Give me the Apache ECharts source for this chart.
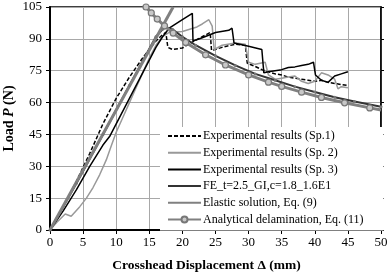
<!DOCTYPE html>
<html>
<head>
<meta charset="utf-8">
<script src="https://cdn.jsdelivr.net/npm/echarts@6/dist/echarts.min.js"></script>
<style>
  html, body { margin: 0; padding: 0; background: #fff; }
  #chart { width: 388px; height: 275px; }
</style>
</head>
<body>
<div id="chart"></div>
<script>
    // values, [displacement mm, load N]
    var sp1 = [[0,0],[2,11],[4,23],[6,36],[8,50],[10,62],[12,72],[14,81],[16,89],[17,92],[17.5,93],
        [17.8,86],[18.5,85],[20,85.7],[21.5,88.5],[23,91],[24.2,93],[24.4,84.5],[26,86],[28,87.5],[29.5,87],[29.8,78.5],
        [31,77],[32,75.5],[33,74.5],[34,73.5],[35,73],[36,72],[37,71.5],[38,71],[39,70.5],[40,70],[41,70.5],[42,69.5],
        [43,69],[44,68.5],[45,68]];
    var sp2 = [[0,0],[1,3.5],[2.3,7.5],[3.2,6.5],[4.5,11],[5.5,15],[6.5,20],[7.5,26],[8.5,33],[9.3,40],[10,46],
        [11,53],[12,60],[13,67],[14,74],[15,81],[16,87],[17,91],[18,93],[20,93.5],[22.2,95.6],[23,97],[24,99],[24.5,96],
        [24.8,85],[26,87],[28,88],[29.5,87.5],[30,79],[31,78],[32.5,79],[33,73],[34,71],[35,71.5],[36,72],[37,72.5],
        [38,70],[39,69],[40,70],[41,74],[42,73],[43,71],[43.5,66.5],[44,67.5],[45,67]];
    var sp3 = [[0,0],[2,9],[4,19],[6,30],[8,40],[9,44],[10,50],[12,62],[14,74],[16,86],[17,91],[18,95],[19,97],
        [20,99],[21.5,102],[21.6,89],[23,90.5],[25,93],[27,94],[27.5,95],[27.8,88],[30,86.5],[32,85],[32.3,74],
        [33,74.5],[34,75],[35,75.5],[36,76.5],[37,76.8],[38,77.5],[39,78],[39.8,79],[40.1,73],[41,70.5],[42,69.5],
        [43,72.5],[44,73.5],[45,74.5]];
    var feModel = [[0,0],[4,22],[8,45],[12,68],[16,91],[17,94.5],[17.5,95.5],[18.5,94.5],[20,91],[22,87],[25,82],
        [28,77.5],[31,73.5],[34,70.5],[37,67.5],[40,65],[43,62.5],[46,60.5],[50,58]];
    var elastic = [[0,0],[18.6,105]];
    var delam = [[14.5,105],[15.3,102.2],[16.2,99.3],[17.3,96.1],[18.6,92.7],[20.5,88.3],[23.5,82.5],[26.5,77.7],
        [30,73],[33,69.6],[35,67.6],[38,64.9],[41,62.4],[44.5,59.9],[48.3,57.5],[50,56.5]];

    var seriesNames = ['Experimental results (Sp.1)', 'Experimental results (Sp. 2)', 'Experimental results (Sp. 3)',
        'FE_t=2.5_GI,c=1.8_1.6E1', 'Elastic solution, Eq. (9)', 'Analytical delamination, Eq. (11)'];

    var serif = '"Liberation Serif", "Times New Roman", serif';

    var delamData = delam.map(function (p, i) {
        if (i === delam.length - 1) return { value: p, symbol: 'none' };
        return p;
    });

    var myChart = echarts.init(document.getElementById('chart'));

    var option = {
        animation: false,
        grid: {
            left: 50, right: 7, top: 7, bottom: 45,
            containLabel: false, outerBoundsMode: 'none',
            show: true, borderColor: '#000', borderWidth: 1.5
        },
        legend: {
            orient: 'vertical',
            left: 160, top: 127,
            padding: [3, 20, 5, 7],
            itemGap: 4.7,
            itemWidth: 33, itemHeight: 7.5,
            backgroundColor: '#fff',
            textStyle: { fontFamily: serif, fontSize: 12, color: '#000', padding: [0, 0, 0, -3] },
            data: [
                seriesNames[0], seriesNames[1], seriesNames[2],
                { name: seriesNames[3], itemStyle: { opacity: 0 } },
                seriesNames[4], seriesNames[5]
            ]
        },
        xAxis: [{
            type: 'value', min: 0, max: 50, interval: 5,
            name: 'Crosshead Displacement Δ (mm)',
            nameLocation: 'middle', nameGap: 29, nameMoveOverlap: false,
            nameTextStyle: { fontFamily: serif, fontSize: 13.5, fontWeight: 'bold', color: '#000', padding: [0, 18, 0, 0] },
            axisLine: { lineStyle: { color: '#000', width: 2 } },
            axisTick: { show: true, inside: false, length: 4, lineStyle: { color: '#000', width: 1 } },
            axisLabel: { fontFamily: serif, fontSize: 13, color: '#000', margin: 6 },
            splitLine: { show: true, lineStyle: { color: '#a8a8a8', width: 1 } }
        }],
        yAxis: [{
            type: 'value', min: 0, max: 105, interval: 15,
            name: '{b|Load }{i|P}{b| (N)}',
            nameLocation: 'middle', nameGap: 34, nameRotate: 90, nameMoveOverlap: false,
            nameTextStyle: {
                padding: [0, 0, 0, 0],
                rich: {
                    b: { fontFamily: serif, fontSize: 14, fontWeight: 'bold', color: '#000' },
                    i: { fontFamily: serif, fontSize: 14, fontWeight: 'bold', fontStyle: 'italic', color: '#000' }
                }
            },
            axisLine: { show: true, lineStyle: { color: '#000', width: 2 } },
            axisTick: { show: true, inside: false, length: 4, lineStyle: { color: '#000', width: 1 } },
            axisLabel: { fontFamily: serif, fontSize: 13, color: '#000', margin: 8 },
            splitLine: { show: true, lineStyle: { color: '#a8a8a8', width: 1 } }
        }, {
            type: 'value', min: 0, max: 105, interval: 15, position: 'right',
            axisLine: { show: true, lineStyle: { color: '#000', width: 1.5 } },
            axisTick: { show: true, inside: false, length: 3, lineStyle: { color: '#000', width: 1 } },
            axisLabel: { show: false },
            splitLine: { show: false }
        }],
        series: [
            {
                name: seriesNames[0], type: 'line', data: sp1, showSymbol: false,
                lineStyle: { color: '#000', width: 1.5, type: [4, 2] }, itemStyle: { color: '#000', opacity: 0 }
            },
            {
                name: seriesNames[1], type: 'line', data: sp2, showSymbol: false,
                lineStyle: { color: '#999', width: 1.5 }, itemStyle: { color: '#999', opacity: 0 }
            },
            {
                name: seriesNames[2], type: 'line', data: sp3, showSymbol: false,
                lineStyle: { color: '#000', width: 1.5 }, itemStyle: { color: '#000', opacity: 0 }
            },
            {
                name: seriesNames[3], type: 'line', data: feModel, symbol: 'circle', symbolSize: 3,
                lineStyle: { color: '#333', width: 2 }, itemStyle: { color: '#777' }
            },
            {
                name: seriesNames[4], type: 'line', data: elastic, showSymbol: false,
                lineStyle: { color: '#808080', width: 3 }, itemStyle: { color: '#808080', opacity: 0 }
            },
            {
                name: seriesNames[5], type: 'line', data: delamData, symbol: 'circle', symbolSize: 6,
                lineStyle: { color: '#808080', width: 3 },
                itemStyle: { color: '#c8c8c8', borderColor: '#777', borderWidth: 1.2 }
            }
        ]
    };

    myChart.setOption(option);
</script>
</body>
</html>
